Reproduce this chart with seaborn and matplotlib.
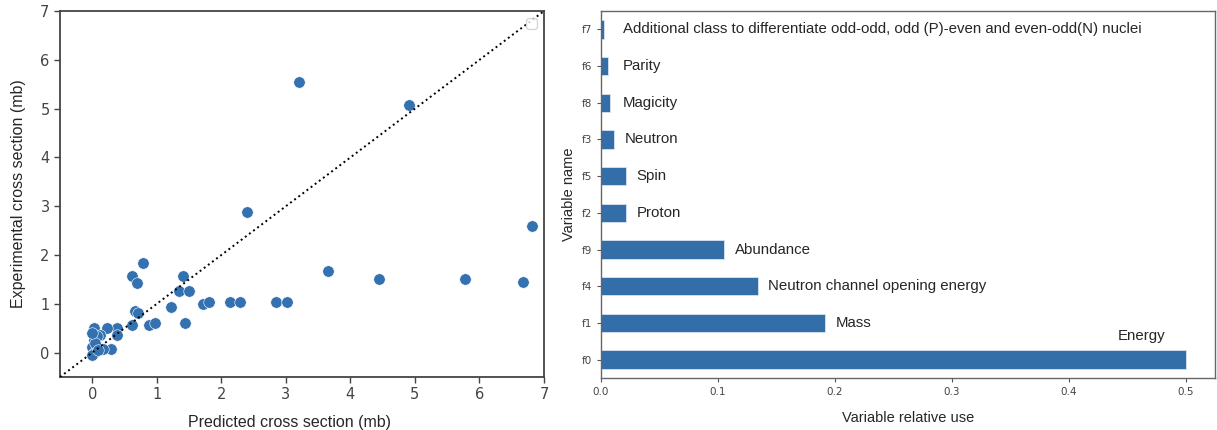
import numpy as np
import pandas as pd
import matplotlib
matplotlib.use("Agg")
import matplotlib.pyplot as plt
import seaborn as sns

# --- DATA ---
predicted = [3.20, 4.91, 2.40, 6.81, 3.66, 4.44, 5.77, 6.67, 0.78, 0.61,
             0.69, 1.40, 1.35, 1.50, 1.22, 1.72, 1.81, 2.14, 2.29, 2.84,
             3.01, 1.44, 0.66, 0.71, 0.61, 0.88, 0.97, 0.39, 0.39, 0.23,
             0.02, 0.12, 0.29, 0.17, 0.02, 0.00, 0.02, 0.00, 0.07, 0.04,
             0.09, -0.01]
experimental = [5.55, 5.07, 2.88, 2.60, 1.68, 1.50, 1.50, 1.45, 1.84, 1.56,
                1.43, 1.56, 1.27, 1.27, 0.94, 0.99, 1.03, 1.03, 1.03, 1.03,
                1.03, 0.61, 0.85, 0.81, 0.57, 0.57, 0.61, 0.51, 0.37, 0.51,
                0.50, 0.37, 0.08, 0.08, 0.26, 0.12, 0.00, -0.05, 0.33, 0.19,
                0.05, 0.40]

var_names = ["f7", "f6", "f8", "f3", "f5", "f2", "f9", "f4", "f1", "f0"]
var_use = [0.0025, 0.0061, 0.0079, 0.0115, 0.0211, 0.0218, 0.1052, 0.1339, 0.1915, 0.5]
var_desc = ["Additional class to differentiate odd-odd, odd (P)-even and even-odd(N) nuclei",
            "Parity", "Magicity", "Neutron", "Spin", "Proton", "Abundance",
            "Neutron channel opening energy", "Mass", "Energy"]

BLUE = "#3471b0"
BAR_BLUE = "#346ea8"

sns.set_style("white")
plt.rcParams["font.family"] = ["Liberation Sans", "DejaVu Sans"]

fig = plt.figure(figsize=(12.17, 4.30), dpi=100)

# --- left: predicted vs experimental ---
ax1 = fig.add_axes([0.0493, 0.1233, 0.3977, 0.851])
df_sc = pd.DataFrame({"pred": predicted, "exp": experimental})
sns.scatterplot(data=df_sc, x="pred", y="exp", ax=ax1, color=BLUE, s=68,
                edgecolor="white", linewidth=0.4, zorder=3)
ax1.plot([-0.5, 7], [-0.5, 7], ls=":", color="black", lw=1.4, zorder=4)
ax1.set_xlim(-0.5, 7)
ax1.set_ylim(-0.5, 7)
ax1.set_xticks(range(0, 8))
ax1.set_yticks(range(0, 8))
ax1.set_xlabel("Predicted cross section (mb)", fontsize=11.5, labelpad=8)
ax1.xaxis.set_label_coords(0.475, -0.105)
ax1.set_ylabel("Experimental cross section (mb)", fontsize=11.5, labelpad=10)
ax1.tick_params(axis="both", labelsize=10.5, labelcolor="#444444", length=4,
                width=1, color="#444444", direction="out", bottom=True, left=True)
for lab in ax1.get_xticklabels() + ax1.get_yticklabels():
    lab.set_family("DejaVu Sans")
for sp in ax1.spines.values():
    sp.set_color("#444444")
    sp.set_linewidth(1.3)
ax1.legend(handles=[], loc="upper right", frameon=True)

# --- right: variable relative use ---
ax2 = fig.add_axes([0.4938, 0.1209, 0.5045, 0.8535])
df_bar = pd.DataFrame({"name": var_names, "use": var_use})
sns.barplot(data=df_bar, x="use", y="name", order=var_names, orient="h",
            color=BAR_BLUE, saturation=1, width=0.5, ax=ax2,
            edgecolor="#d8e4f0", linewidth=0.6)
ax2.set_xlim(0, 0.525)
ax2.set_ylim(9.5, -0.5)
ax2.set_xlabel("Variable relative use", fontsize=10.5, labelpad=10)
ax2.set_ylabel("Variable name", fontsize=10.5, labelpad=4)
ax2.tick_params(axis="both", labelsize=7.5, labelcolor="#444444", length=3,
                width=0.8, color="#555555", bottom=True, left=True)
for lab in ax2.get_xticklabels() + ax2.get_yticklabels():
    lab.set_family("DejaVu Sans")
for sp in ax2.spines.values():
    sp.set_color("#666666")
    sp.set_linewidth(1.0)

for i, (v, txt) in enumerate(zip(var_use, var_desc)):
    if txt == "Energy":
        ax2.text(v - 0.017, i - 0.65, txt, ha="right", va="center", fontsize=10.8)
    else:
        ax2.text(max(v + 0.009, 0.019), i, txt, ha="left", va="center", fontsize=10.8)

fig.savefig("out.png", dpi=100)
